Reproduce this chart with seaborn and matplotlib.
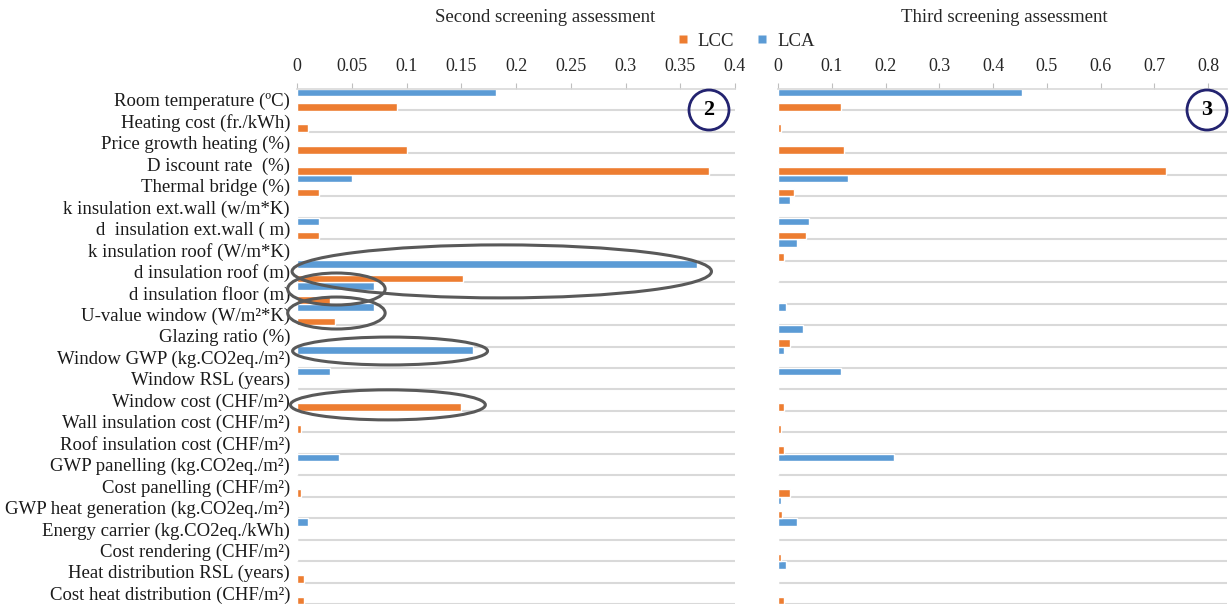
import matplotlib
matplotlib.use("Agg")
import matplotlib.pyplot as plt
from matplotlib.patches import Ellipse
from matplotlib.lines import Line2D
import pandas as pd
import seaborn as sns

# --- Datos ---
parametros = [
    "Room temperature (ºC)",
    "Heating cost (fr./kWh)",
    "Price growth heating (%)",
    "D iscount rate  (%)",
    "Thermal bridge (%)",
    "k insulation ext.wall (w/m*K)",
    "d  insulation ext.wall ( m)",
    "k insulation roof (W/m*K)",
    "d insulation roof (m)",
    "d insulation floor (m)",
    "U-value window (W/m²*K)",
    "Glazing ratio (%)",
    "Window GWP (kg.CO2eq./m²)",
    "Window RSL (years)",
    "Window cost (CHF/m²)",
    "Wall insulation cost (CHF/m²)",
    "Roof insulation cost (CHF/m²)",
    "GWP panelling (kg.CO2eq./m²)",
    "Cost panelling (CHF/m²)",
    "GWP heat generation (kg.CO2eq./m²)",
    "Energy carrier (kg.CO2eq./kWh)",
    "Cost rendering (CHF/m²)",
    "Heat distribution RSL (years)",
    "Cost heat distribution (CHF/m²)",
]

lca_segundo = [0.182, 0, 0, 0, 0.05, 0, 0.02, 0, 0.365, 0.07, 0.07, 0, 0.161, 0.03,
               0, 0, 0, 0.038, 0, 0, 0.01, 0, 0, 0]
lcc_segundo = [0.091, 0.01, 0.1, 0.376, 0.02, 0, 0.02, 0, 0.152, 0.03, 0.035, 0, 0, 0,
               0.15, 0.004, 0, 0, 0.004, 0, 0, 0, 0.006, 0.006]

lca_tercero = [0.453, 0, 0, 0.002, 0.13, 0.022, 0.058, 0.035, 0, 0, 0.015, 0.047, 0.011,
               0.118, 0, 0, 0, 0.215, 0, 0.005, 0.035, 0, 0.014, 0]
lcc_tercero = [0.118, 0.005, 0.122, 0.722, 0.03, 0, 0.053, 0.011, 0, 0, 0, 0.022, 0, 0,
               0.011, 0.005, 0.011, 0, 0.022, 0.008, 0, 0.005, 0, 0.011]

ticks_segundo = [0, 0.05, 0.1, 0.15, 0.2, 0.25, 0.3, 0.35, 0.4]
ticks_tercero = [0, 0.1, 0.2, 0.3, 0.4, 0.5, 0.6, 0.7, 0.8]
etiquetas_segundo = ["0", "0.05", "0.1", "0.15", "0.2", "0.25", "0.3", "0.35", "0.4"]
etiquetas_tercero = ["0", "0.1", "0.2", "0.3", "0.4", "0.5", "0.6", "0.7", "0.8"]

naranja = "#ED7D31"
azul = "#5B9BD5"
gris = "#D9D9D9"


def tabla(lca, lcc):
    return pd.DataFrame({
        "param": parametros * 2,
        "valor": lca + lcc,
        "metodo": ["LCA"] * len(lca) + ["LCC"] * len(lcc),
    })


# --- Estilo ---
sns.set_style("white")
plt.rcParams['font.family'] = ['Liberation Serif', 'DejaVu Serif']

fig = plt.figure(figsize=(12.29, 6.06), dpi=100)
ax2 = fig.add_axes([297 / 1229, 2 / 606, (735 - 297) / 1229, (604 - 89) / 606])
ax3 = fig.add_axes([778 / 1229, 2 / 606, (1227 - 778) / 1229, (604 - 89) / 606])

paneles = [
    (ax2, tabla(lca_segundo, lcc_segundo), (0, 0.4), ticks_segundo, etiquetas_segundo),
    (ax3, tabla(lca_tercero, lcc_tercero), (0, 0.835), ticks_tercero, etiquetas_tercero),
]

for ax, df, lim, ticks, etiquetas in paneles:
    sns.barplot(data=df, y="param", x="valor", hue="metodo", order=parametros,
                hue_order=["LCA", "LCC"], palette={"LCA": azul, "LCC": naranja},
                orient="h", width=1.32, gap=0.46, saturation=1, errorbar=None,
                legend=False, ax=ax)
    ax.set_xlim(*lim)
    ax.set_ylim(len(parametros) - 0.5, -0.5)
    for i in range(len(parametros)):
        ax.axhline(i + 0.5, color=gris, lw=1.5, zorder=0)
    ax.xaxis.tick_top()
    ax.set_xticks(ticks)
    ax.set_xticklabels(etiquetas, fontsize=13, color="#262626")
    ax.tick_params(axis="x", direction="out", length=4, color="#BFBFBF", pad=6)
    ax.tick_params(axis="y", length=0)
    ax.set_xlabel("")
    ax.set_ylabel("")
    for lado in ["left", "right", "bottom"]:
        ax.spines[lado].set_visible(False)
    ax.spines["top"].set_color(gris)
    ax.spines["top"].set_linewidth(1.2)

ax2.set_yticks(range(len(parametros)))
ax2.set_yticklabels(parametros, fontsize=13.5, color="#1a1a1a")
ax2.tick_params(axis="y", pad=5)
ax3.set_yticklabels([])

# Elipses de resalte en el segundo panel (centro x, centro y, ancho, alto)
elipses = [
    (0.187, 8.0, 0.383, 2.47),
    (0.036, 8.82, 0.089, 1.49),
    (0.036, 9.94, 0.089, 1.49),
    (0.085, 11.71, 0.178, 1.3),
    (0.083, 14.22, 0.178, 1.4),
]
for cx, cy, w, h in elipses:
    ax2.add_patch(Ellipse((cx, cy), w, h, fill=False, ec="#595959", lw=2.2,
                          clip_on=False, zorder=5))

# Números en círculo
for x, txt in [(709 / 1229, "2"), (1207 / 1229, "3")]:
    fig.text(x, 1 - 110 / 606, txt, ha="center", va="center", fontsize=16,
             fontweight="bold", color="black",
             bbox=dict(boxstyle="circle,pad=0.45", fc="none", ec="#232370", lw=2))

# Títulos
fig.text(545 / 1229, 1 - 18 / 606, "Second screening assessment", ha="center",
         va="center", fontsize=13.5, color="#262626")
fig.text(1004 / 1229, 1 - 18 / 606, "Third screening assessment", ha="center",
         va="center", fontsize=13.5, color="#262626")

# Leyenda
manejadores = [
    Line2D([0], [0], marker="s", color="none", markerfacecolor=naranja,
           markeredgecolor="none", markersize=6),
    Line2D([0], [0], marker="s", color="none", markerfacecolor=azul,
           markeredgecolor="none", markersize=6),
]
fig.legend(manejadores, ["LCC", "LCA"], loc="center",
           bbox_to_anchor=(745 / 1229, 1 - 41 / 606), ncol=2, frameon=False,
           fontsize=13.5, handlelength=0.8, handletextpad=0.4, columnspacing=1.1)

fig.savefig("out.png", dpi=100)
